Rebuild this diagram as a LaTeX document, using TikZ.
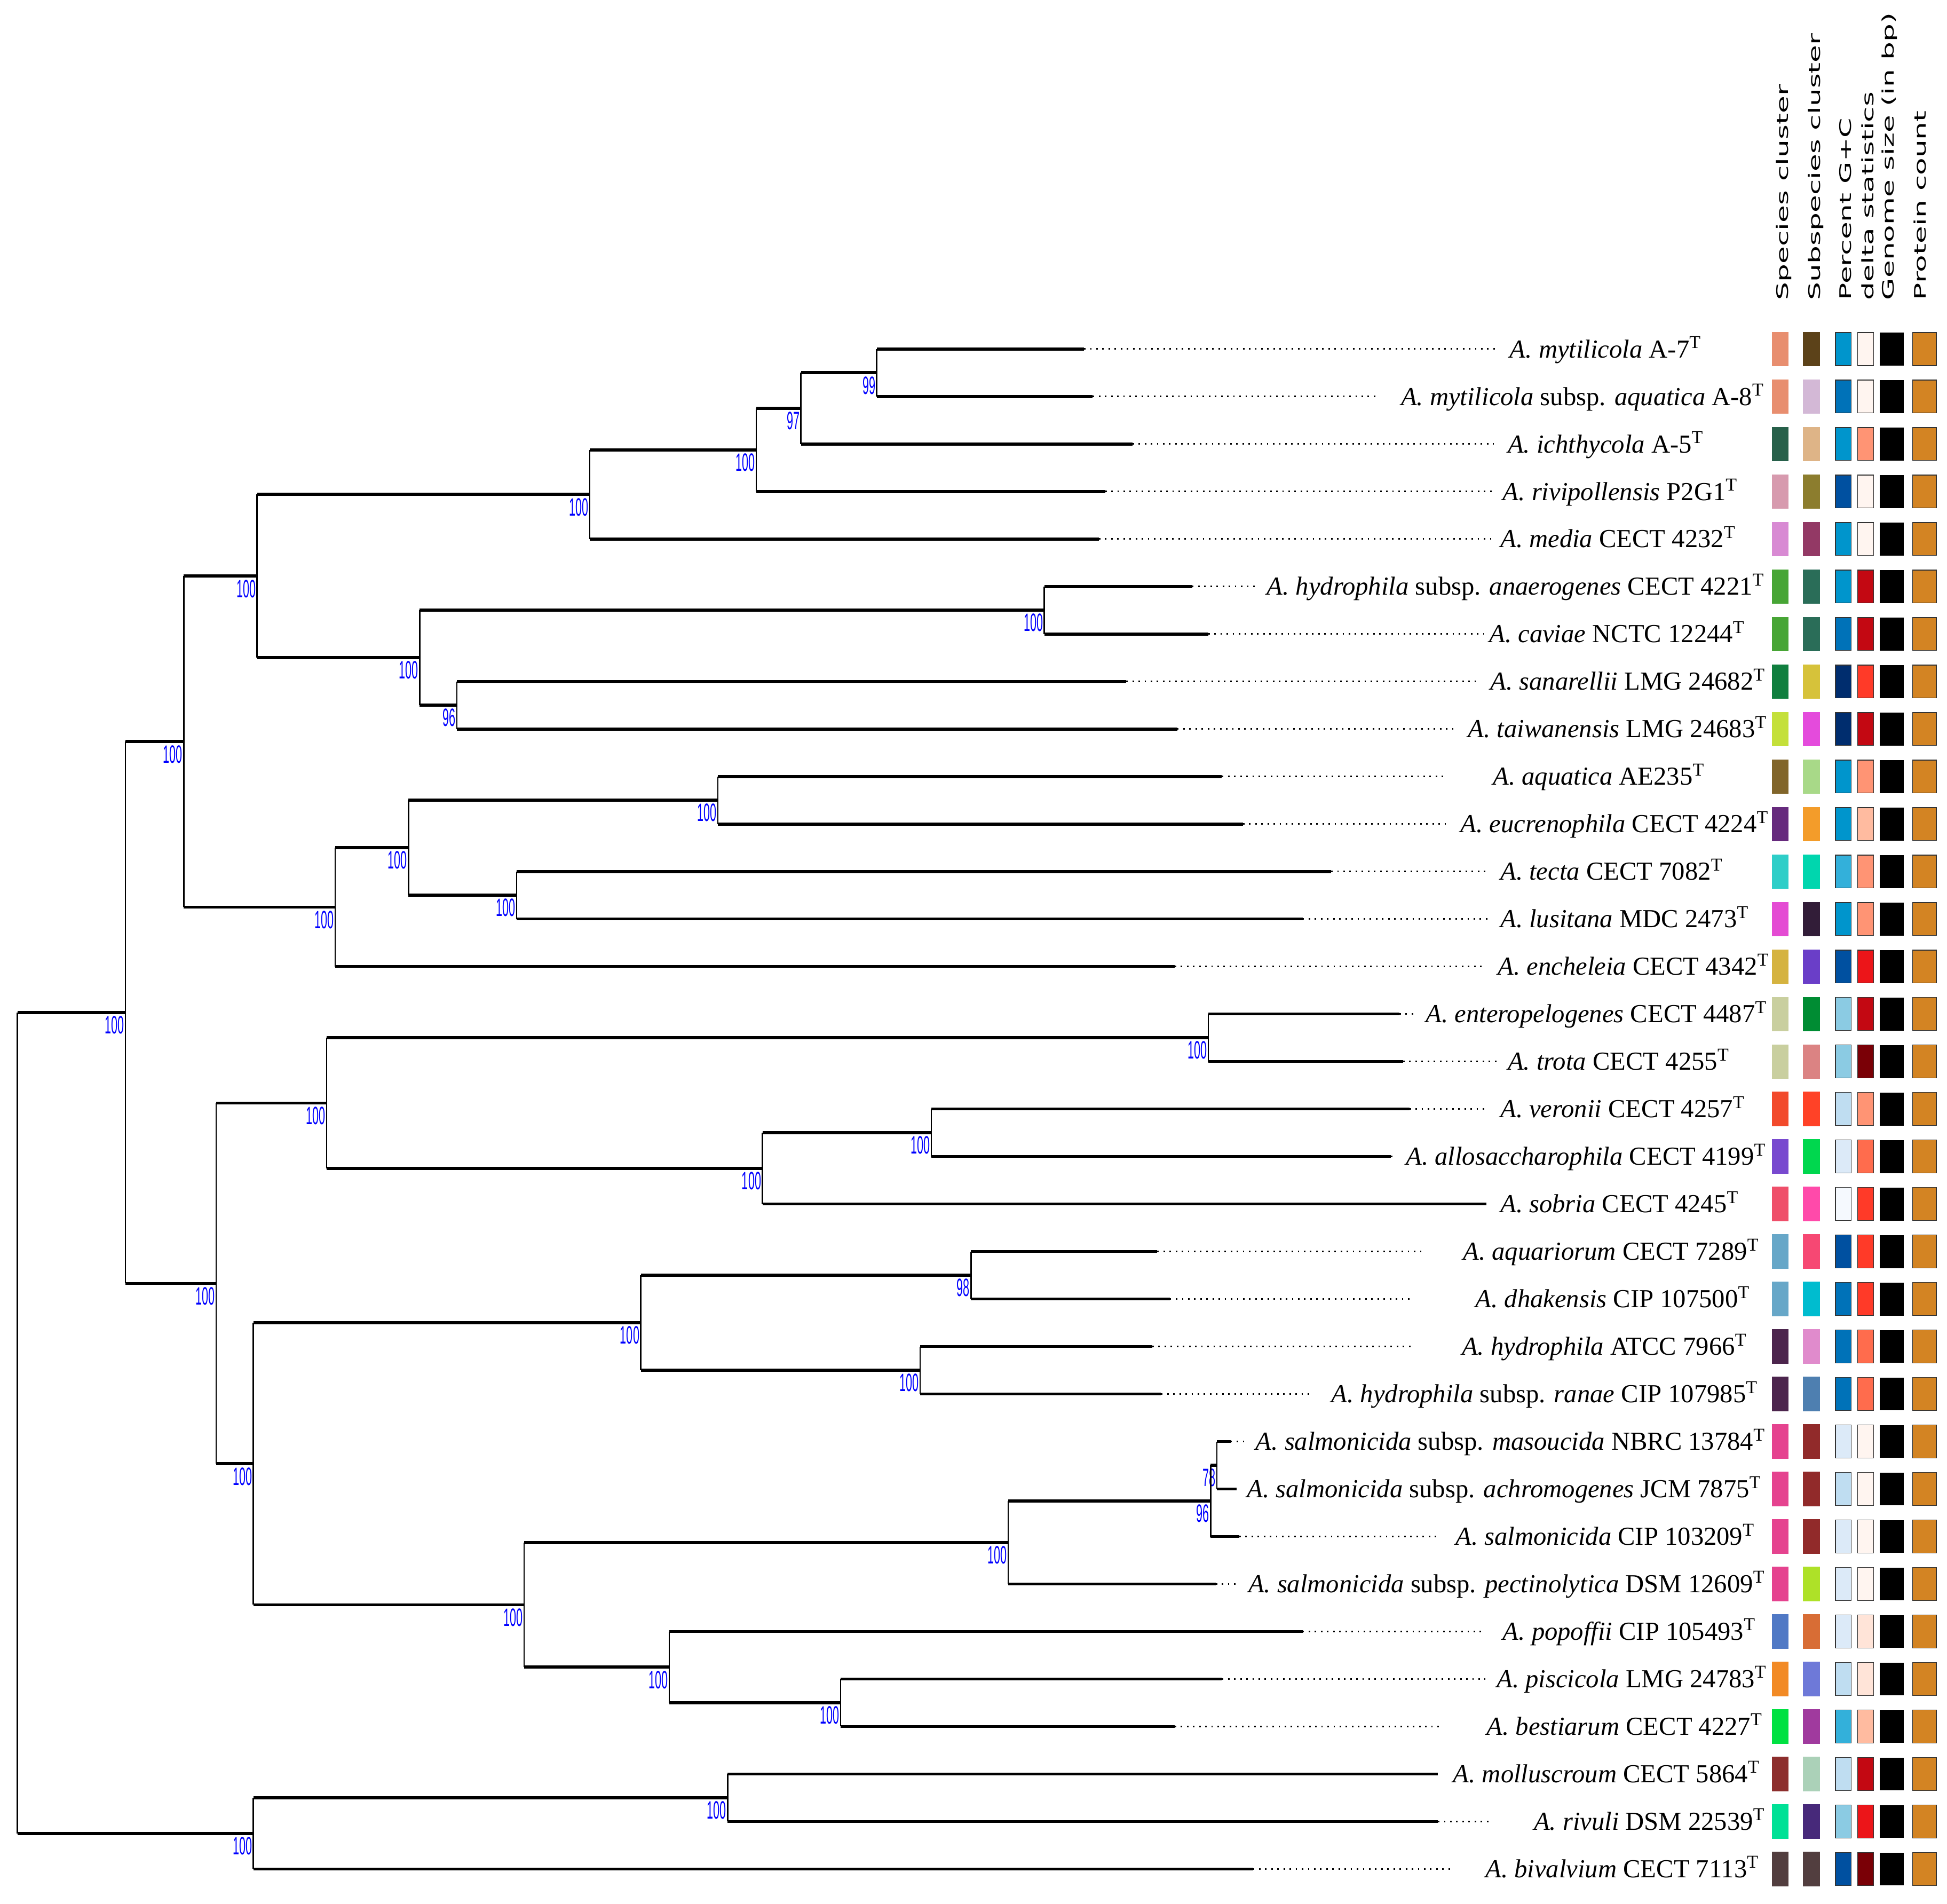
\documentclass[tikz,border=0pt]{standalone}
\usepackage{fontspec}
\setmainfont{Liberation Serif}
\newfontfamily\bootfont[FakeStretch=0.46]{Liberation Sans}
\newfontfamily\headfont[FakeStretch=1.79]{DejaVu Sans}
\usetikzlibrary{calc}

% one clade: name, x of the split, two children, support value
\newcommand{\clade}[5]{%
  \coordinate (#1m) at ($(#3)!.5!(#4)$);
  \coordinate (#1) at (#2,0 |- #1m);
  \draw[hbranch] (#3) -- (#3 -| #1);
  \draw[hbranch] (#4) -- (#4 -| #1);
  \draw[vbranch] (#3 -| #1) -- (#4 -| #1);
  \node[boot] (b#1) at (#1) {#5};
}

\begin{document}
\begin{tikzpicture}[x=0.02cm, y=-0.02cm,
    hbranch/.style={line width=1.4pt},
    vbranch/.style={line width=0.6pt},
    leafdots/.style={line width=0.7pt, dash pattern=on 0.7pt off 2.1pt},
    boot/.style={anchor=north east, inner sep=0pt, xshift=-0.4pt, yshift=-1.5pt,
      text=blue, font=\bootfont\fontsize{11.5}{12}\selectfont},
    taxon/.style={anchor=base west, inner sep=0pt, font=\fontsize{11.9}{14}\selectfont},
    head/.style={rotate=90, anchor=base west, inner sep=0pt,
      font=\headfont\fontsize{7.3}{9}\selectfont},
    framed/.style={draw=black!80, line width=0.4pt}]
  \useasboundingbox (0,0) rectangle (1568,1533);

  % leaves: row / end of branch / end of dots / label x / name
  \foreach \r/\ex/\dx/\lx/\txt in {
      0/873/1205/1215.6/{\textit{A. mytilicola} A-7},
      1/880/1108/1128/{\textit{A. mytilicola} subsp. \textit{aquatica} A-8},
      2/912/1203/1214/{\textit{A. ichthycola} A-5},
      3/890/1202/1210/{\textit{A. rivipollensis} P2G1},
      4/885/1203/1208/{\textit{A. media} CECT 4232},
      5/960/1014/1020/{\textit{A. hydrophila} subsp. \textit{anaerogenes} CECT 4221},
      6/973/1195/1199/{\textit{A. caviae} NCTC 12244},
      7/907/1190/1200/{\textit{A. sanarellii} LMG 24682},
      8/948/1172/1182/{\textit{A. taiwanensis} LMG 24683},
      9/984/1165/1202/{\textit{A. aquatica} AE235},
      10/1001/1165/1176/{\textit{A. eucrenophila} CECT 4224},
      11/1072/1198/1208/{\textit{A. tecta} CECT 7082},
      12/1049/1198/1208/{\textit{A. lusitana} MDC 2473},
      13/946/1196/1206/{\textit{A. encheleia} CECT 4342},
      14/1127/1138/1148/{\textit{A. enteropelogenes} CECT 4487},
      15/1130/1205/1214/{\textit{A. trota} CECT 4255},
      16/1135/1198/1208/{\textit{A. veronii} CECT 4257},
      17/1120/1124/1132/{\textit{A. allosaccharophila} CECT 4199},
      18/1197/1197/1208/{\textit{A. sobria} CECT 4245},
      19/932/1145/1178/{\textit{A. aquariorum} CECT 7289},
      20/942/1138/1188/{\textit{A. dhakensis} CIP 107500},
      21/928/1139/1177/{\textit{A. hydrophila} ATCC 7966},
      22/935/1057/1072/{\textit{A. hydrophila} subsp. \textit{ranae} CIP 107985},
      23/991/1004/1011/{\textit{A. salmonicida} subsp. \textit{masoucida} NBRC 13784},
      24/996/996/1004/{\textit{A. salmonicida} subsp. \textit{achromogenes} JCM 7875},
      25/998/1157/1172/{\textit{A. salmonicida} CIP 103209},
      26/979/995/1005/{\textit{A. salmonicida} subsp. \textit{pectinolytica} DSM 12609},
      27/1049/1195/1210/{\textit{A. popoffii} CIP 105493},
      28/984/1196/1205/{\textit{A. piscicola} LMG 24783},
      29/946/1162/1197/{\textit{A. bestiarum} CECT 4227},
      30/1158/1158/1170/{\textit{A. molluscroum} CECT 5864},
      31/1158/1202/1235/{\textit{A. rivuli} DSM 22539},
      32/1009/1170/1196/{\textit{A. bivalvium} CECT 7113}}{
    \coordinate (l\r) at (\ex, {281+38.25*\r});
    \coordinate (d\r) at (\dx, {281+38.25*\r});
    \draw[leafdots] (l\r) -- (d\r);
    \node[taxon] (t\r) at (\lx, {288+38.25*\r}) {\txt\textsuperscript{T}};
  }

  % upper group
  \clade{n99}{706}{l0}{l1}{99}
  \clade{n97}{645}{n99}{l2}{97}
  \clade{nRiv}{609}{n97}{l3}{100}
  \clade{nMed}{475}{nRiv}{l4}{100}
  \clade{nCav}{841}{l5}{l6}{100}
  \clade{nSan}{368}{l7}{l8}{96}
  \clade{nAer}{338}{nCav}{nSan}{100}
  \clade{nUp}{207}{nMed}{nAer}{100}
  \clade{nEuc}{578}{l9}{l10}{100}
  \clade{nTec}{416}{l11}{l12}{100}
  \clade{nAqu}{329}{nEuc}{nTec}{100}
  \clade{nEnc}{270}{nAqu}{l13}{100}
  \clade{nTop}{148}{nUp}{nEnc}{100}
  % middle group
  \clade{nTro}{973}{l14}{l15}{100}
  \clade{nVer}{750}{l16}{l17}{100}
  \clade{nSob}{614}{nVer}{l18}{100}
  \clade{nVS}{263}{nTro}{nSob}{100}
  \clade{nDha}{782}{l19}{l20}{98}
  \clade{nHyd}{741}{l21}{l22}{100}
  \clade{nHD}{516}{nDha}{nHyd}{100}
  \clade{nMas}{980}{l23}{l24}{78}
  \clade{nSal}{975}{nMas}{l25}{96}
  \clade{nPec}{812}{nSal}{l26}{100}
  \clade{nPis}{677}{l28}{l29}{100}
  \clade{nPop}{539}{l27}{nPis}{100}
  \clade{nSP}{422}{nPec}{nPop}{100}
  \clade{nHS}{204}{nHD}{nSP}{100}
  \clade{nMid}{174}{nVS}{nHS}{100}
  \clade{nBig}{101}{nTop}{nMid}{100}
  % lower group and root
  \clade{nMol}{586}{l30}{l31}{100}
  \clade{nBiv}{204}{nMol}{l32}{100}
  \clade{root}{14}{nBig}{nBiv}{}

  % column headers
  \node[head] (hSpc) at (1440,242) {Species cluster};
  \node[head] (hSub) at (1465.7,242) {Subspecies cluster};
  \node[head] (hGC) at (1490.8,242) {Percent G+C};
  \node[head] (hDel) at (1508.7,242) {delta statistics};
  \node[head] (hGen) at (1525.2,242) {Genome size (in bp)};
  \node[head] (hPro) at (1550.9,242) {Protein count};

  % colour strips
  \foreach \r/\ca/\cb/\cc/\cd in {
      0/E88E6F/5C4219/0095CC/FFF5F0, 1/E88E6F/D3B8D6/0072B8/FFF5F0,
      2/27604A/DEB487/0095CC/FF9474, 3/D79AAE/8C7D2E/0050A0/FFF5F0,
      4/D88AD3/933965/0095CC/FFF5F0, 5/47A535/2A6D58/0095CC/C30812,
      6/47A535/2A6D58/0072B8/C30812, 7/107F3F/D6C23A/002D6E/FF3A28,
      8/C4E03A/E44BDC/002D6E/C30812, 9/81652A/A8D988/0095CC/FF9474,
      10/662A7D/F39C2A/0095CC/FFBBA0, 11/2ECEC8/00D6AE/33B0DA/FF9474,
      12/E44BD3/321D38/0095CC/FF9474, 13/D5B340/6A3EC8/0050A0/EC1519,
      14/C9CF9F/008C33/8BCBE3/C30812, 15/C9CF9F/DB8383/8BCBE3/7A0006,
      16/F24A2C/FF4227/BFDDF1/FF9474, 17/7849CF/00D74E/DCEAF8/FF6C4D,
      18/EF4F6A/FF4AAA/F5F9FE/FF3A28, 19/67A7C8/F64873/0050A0/FF3A28,
      20/67A7C8/00BCCF/0072B8/FF3A28, 21/4C254D/E08BCC/0072B8/FF6C4D,
      22/4C254D/4E7FB0/0072B8/FF6C4D, 23/E5438F/912A2A/DCEAF8/FFF5F0,
      24/E5438F/912A2A/BFDDF1/FFF5F0, 25/E5438F/912A2A/DCEAF8/FFF5F0,
      26/E5438F/AEE128/DCEAF8/FFF5F0, 27/5079C5/D86D35/DCEAF8/FFE4D8,
      28/F28A25/6E79D8/BFDDF1/FFE4D8, 29/00E142/A03A9E/33B0DA/FFBBA0,
      30/8D2E2D/ABD1B8/BFDDF1/C30812, 31/00E196/47297A/8BCBE3/EC1519,
      32/523E3F/523E3F/0050A0/7A0006}{
    \edef\setcols{\noexpand\definecolor{cspc}{HTML}{\ca}%
      \noexpand\definecolor{csub}{HTML}{\cb}%
      \noexpand\definecolor{cgc}{HTML}{\cc}%
      \noexpand\definecolor{cdel}{HTML}{\cd}}\setcols
    \pgfmathsetmacro\yy{281+38.25*\r}
    \fill[cspc] (1427,\yy-13.8) rectangle (1440.4,\yy+13.8);
    \fill[csub] (1452,\yy-13.8) rectangle (1465.7,\yy+13.8);
    \filldraw[framed, fill=cgc] (1478.2,\yy-13.3) rectangle (1490.9,\yy+13.3);
    \filldraw[framed, fill=cdel] (1496,\yy-13.3) rectangle (1508.8,\yy+13.3);
    \fill[black] (1514,\yy-13.3) rectangle (1533,\yy+13.3);
    \filldraw[framed, fill={rgb,255:red,211;green,132;blue,35}] (1540.2,\yy-13.3) rectangle (1559.5,\yy+13.3);
  }
\end{tikzpicture}
\end{document}
